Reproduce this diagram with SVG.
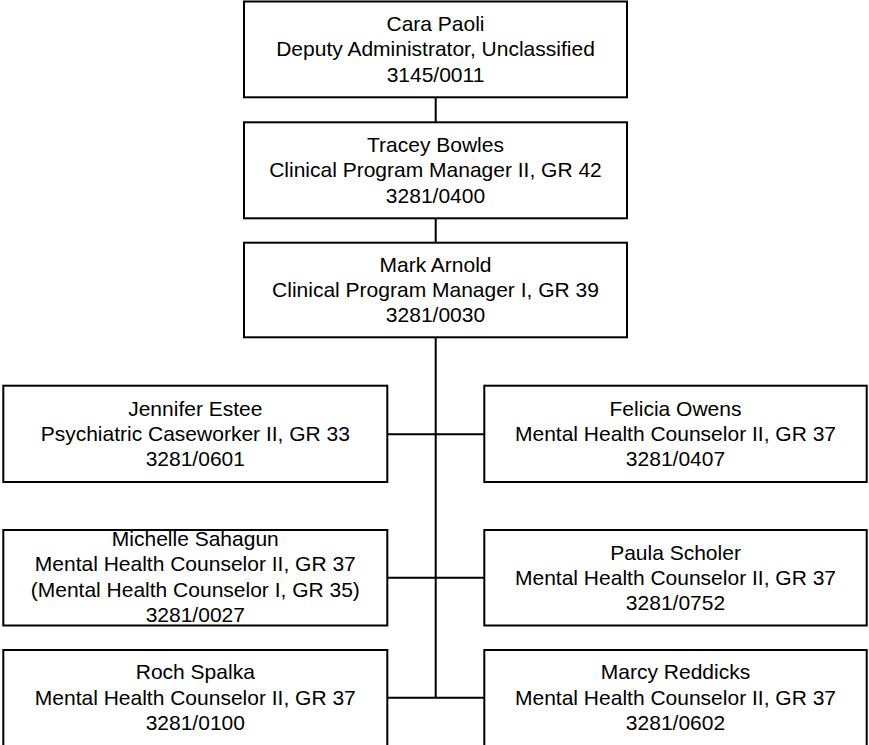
<svg xmlns="http://www.w3.org/2000/svg" width="869" height="745" viewBox="0 0 869 745">
<style>
.box{fill:#fff;stroke:#000;stroke-width:2}
.c{fill:none;stroke:#000;stroke-width:2}
text{font-family:"Liberation Sans",Arial,sans-serif;font-size:21px;fill:#000;text-anchor:middle}
</style>
<rect width="869" height="745" fill="#fff"/>
<g id="connectors">
<path class="c" d="M435.7 97.3V122.3M435.7 218.3V242.7M435.7 337.3V697.7M387.3 434.3H484.3M387.3 577.7H484.3M387.3 697.7H484.3"/>
</g>
<g id="cara">
<rect class="box" x="244" y="1.5" width="383" height="95.8"/>
<text x="435.5" y="31"><tspan x="435.5">Cara Paoli</tspan><tspan x="435.5" dy="25.3">Deputy Administrator, Unclassified</tspan><tspan x="435.5" dy="25.3">3145/0011</tspan></text>
</g>
<g id="tracey">
<rect class="box" x="244" y="122.3" width="383" height="96"/>
<text x="435.5" y="152"><tspan x="435.5">Tracey Bowles</tspan><tspan x="435.5" dy="25.3">Clinical Program Manager II, GR 42</tspan><tspan x="435.5" dy="25.3">3281/0400</tspan></text>
</g>
<g id="mark">
<rect class="box" x="244" y="242.7" width="383" height="94.6"/>
<text x="435.5" y="271.5"><tspan x="435.5">Mark Arnold</tspan><tspan x="435.5" dy="25.3">Clinical Program Manager I, GR 39</tspan><tspan x="435.5" dy="25.3">3281/0030</tspan></text>
</g>
<g id="jennifer">
<rect class="box" x="3.3" y="385.7" width="384" height="96.3"/>
<text x="195.3" y="415.5"><tspan x="195.3">Jennifer Estee</tspan><tspan x="195.3" dy="25.3">Psychiatric Caseworker II, GR 33</tspan><tspan x="195.3" dy="25.3">3281/0601</tspan></text>
</g>
<g id="felicia">
<rect class="box" x="484.3" y="385.7" width="382.4" height="96.3"/>
<text x="675.5" y="415.5"><tspan x="675.5">Felicia Owens</tspan><tspan x="675.5" dy="25.3">Mental Health Counselor II, GR 37</tspan><tspan x="675.5" dy="25.3">3281/0407</tspan></text>
</g>
<g id="michelle">
<rect class="box" x="3.3" y="530" width="384" height="95.5"/>
<text x="195.3" y="546"><tspan x="195.3">Michelle Sahagun</tspan><tspan x="195.3" dy="25.3">Mental Health Counselor II, GR 37</tspan><tspan x="195.3" dy="25.3">(Mental Health Counselor I, GR 35)</tspan><tspan x="195.3" dy="25.3">3281/0027</tspan></text>
</g>
<g id="paula">
<rect class="box" x="484.3" y="530" width="382.4" height="95.5"/>
<text x="675.5" y="559.5"><tspan x="675.5">Paula Scholer</tspan><tspan x="675.5" dy="25.3">Mental Health Counselor II, GR 37</tspan><tspan x="675.5" dy="25.3">3281/0752</tspan></text>
</g>
<g id="roch">
<rect class="box" x="3.3" y="650" width="384" height="100"/>
<text x="195.3" y="679.4"><tspan x="195.3">Roch Spalka</tspan><tspan x="195.3" dy="25.3">Mental Health Counselor II, GR 37</tspan><tspan x="195.3" dy="25.3">3281/0100</tspan></text>
</g>
<g id="marcy">
<rect class="box" x="484.3" y="650" width="382.4" height="100"/>
<text x="675.5" y="679.4"><tspan x="675.5">Marcy Reddicks</tspan><tspan x="675.5" dy="25.3">Mental Health Counselor II, GR 37</tspan><tspan x="675.5" dy="25.3">3281/0602</tspan></text>
</g>
</svg>
